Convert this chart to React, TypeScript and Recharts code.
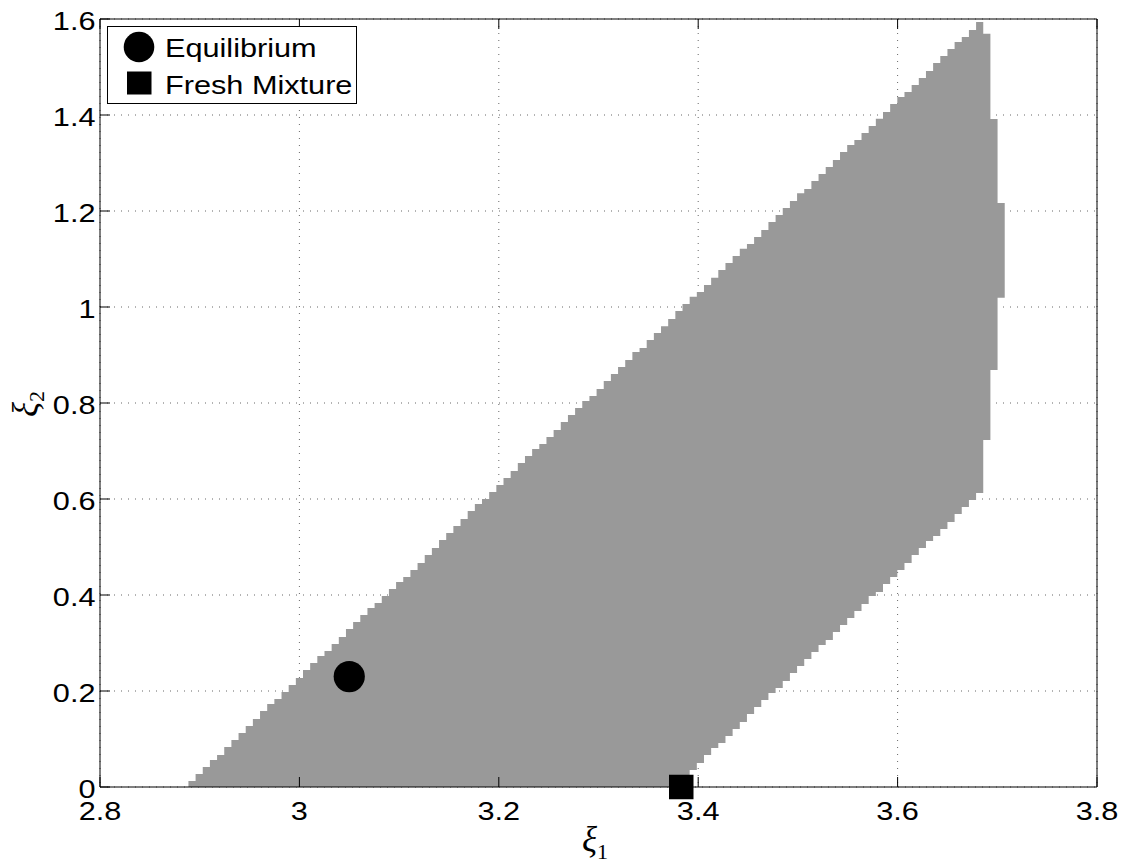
import React from 'react';
import { ComposedChart, Area, Scatter, XAxis, YAxis, CartesianGrid, Legend, Label } from 'recharts';

// ---- axis ticks ----
const XI1_TICKS = [2.8, 3.0, 3.2, 3.4, 3.6, 3.8];
const XI2_TICKS = [0, 0.2, 0.4, 0.6, 0.8, 1.0, 1.2, 1.4, 1.6];

// ---- feasible region, rasterised in columns along xi1 ----
const COLUMN_XI1_START = 2.8887;
const COLUMN_XI1_WIDTH = 0.007182;

// upper xi2 limit of each column
const REGION_UPPER = [
  0.0125, 0.0271, 0.0417, 0.0563, 0.0667, 0.0833, 0.0979, 0.1125, 0.1271, 0.1417,
  0.1583, 0.1729, 0.1833, 0.1979, 0.2125, 0.2271, 0.2438, 0.2583, 0.2729, 0.2833,
  0.2979, 0.3125, 0.3292, 0.3438, 0.3583, 0.3729, 0.3833, 0.3979, 0.4125, 0.4271,
  0.4375, 0.4521, 0.4667, 0.4833, 0.4979, 0.5146, 0.5292, 0.5438, 0.5583, 0.575,
  0.5896, 0.6, 0.6146, 0.6292, 0.6438, 0.6583, 0.675, 0.6896, 0.7042, 0.7146,
  0.7292, 0.7438, 0.7604, 0.775, 0.7896, 0.8042, 0.8146, 0.8292, 0.8458, 0.8604,
  0.875, 0.8896, 0.9063, 0.9146, 0.9313, 0.9458, 0.9598, 0.975, 0.9917, 1.0063,
  1.0215, 1.0313, 1.0458, 1.061, 1.0771, 1.0917, 1.1063, 1.1215, 1.1313, 1.1458,
  1.1604, 1.1771, 1.1917, 1.2063, 1.2208, 1.2369, 1.2458, 1.2625, 1.2771, 1.2917,
  1.3063, 1.3229, 1.3375, 1.3479, 1.3625, 1.3771, 1.3923, 1.4063, 1.4229, 1.4375,
  1.4479, 1.4625, 1.4771, 1.4917, 1.5083, 1.5229, 1.5375, 1.5521, 1.5625, 1.5771,
  1.5938, 1.5694, 1.3917, 1.2167,
];

// lower xi2 limit of each column
const REGION_LOWER = [
  0, 0, 0, 0, 0, 0, 0, 0, 0, 0,
  0, 0, 0, 0, 0, 0, 0, 0, 0, 0,
  0, 0, 0, 0, 0, 0, 0, 0, 0, 0,
  0, 0, 0, 0, 0, 0, 0, 0, 0, 0,
  0, 0, 0, 0, 0, 0, 0, 0, 0, 0,
  0, 0, 0, 0, 0, 0, 0, 0, 0, 0,
  0, 0, 0, 0, 0, 0, 0, 0, 0, 0,
  0.0354, 0.05, 0.0667, 0.0813, 0.0917, 0.1063, 0.1208, 0.1354, 0.1521, 0.1667,
  0.1813, 0.1958, 0.2063, 0.2208, 0.2375, 0.2521, 0.2667, 0.2813, 0.2958, 0.3063,
  0.3229, 0.3375, 0.3521, 0.3667, 0.3813, 0.3979, 0.4063, 0.4229, 0.4375, 0.4521,
  0.4667, 0.4833, 0.4979, 0.5125, 0.5229, 0.5375, 0.5521, 0.5688, 0.5833, 0.5979,
  0.6125, 0.7229, 0.8688, 1.0194,
];

// ---- points ----
const EQUILIBRIUM = [{ x: 3.05, y: 0.23 }];
const FRESH_MIXTURE = [{ x: 3.383, y: 0 }];
const SERIES_NAMES = ['Equilibrium', 'Fresh Mixture'];

const regionData: { x: number; range: [number, number] }[] = REGION_UPPER.map((hi, i) => ({
  x: COLUMN_XI1_START + i * COLUMN_XI1_WIDTH,
  range: [REGION_LOWER[i], hi] as [number, number],
}));
regionData.push({
  x: COLUMN_XI1_START + REGION_UPPER.length * COLUMN_XI1_WIDTH,
  range: [REGION_LOWER[REGION_LOWER.length - 1], REGION_UPPER[REGION_UPPER.length - 1]],
});

const SANS = "'Liberation Sans', Arial, Helvetica, sans-serif";
const SERIF = "'Liberation Serif', 'DejaVu Serif', 'Times New Roman', serif";
const STRETCH = 1.18;
const fmt = (v: number) => String(Math.round(v * 10) / 10);
const stretchAt = (x: number) => `matrix(${STRETCH} 0 0 1 ${(1 - STRETCH) * x} 0)`;

const BottomTick = (props: any) => {
  const { x, y, payload } = props;
  return (
    <g>
      <line x1={x} y1={y} x2={x} y2={y - 10} stroke="#000" strokeWidth={1} />
      <text x={x} y={y + 33} textAnchor="middle" fontFamily={SANS} fontSize={26} fill="#000" transform={stretchAt(x)}>
        {fmt(payload.value)}
      </text>
    </g>
  );
};

const TopTick = (props: any) => {
  const { x, y } = props;
  return <line x1={x} y1={y} x2={x} y2={y + 10} stroke="#000" strokeWidth={1} />;
};

const LeftTick = (props: any) => {
  const { x, y, payload } = props;
  const tx = x - 4.5;
  return (
    <g>
      <line x1={x} y1={y} x2={x + 10} y2={y} stroke="#000" strokeWidth={1} />
      <text x={tx} y={y + 11.5} textAnchor="end" fontFamily={SANS} fontSize={26} fill="#000" transform={stretchAt(tx)}>
        {fmt(payload.value)}
      </text>
    </g>
  );
};

const RightTick = (props: any) => {
  const { x, y } = props;
  return <line x1={x} y1={y} x2={x - 10} y2={y} stroke="#000" strokeWidth={1} />;
};

const XLabel = (props: any) => {
  const vb = props.viewBox || { x: 100, y: 787, width: 997, height: 1 };
  const cx = vb.x + vb.width / 2 - 3.5;
  const by = 851;
  return (
    <text x={cx} y={by} textAnchor="middle" fontFamily={SERIF} fill="#000">
      <tspan fontStyle="italic" fontSize={35}>ξ</tspan>
      <tspan fontSize={22} dy={8}>1</tspan>
    </text>
  );
};

const YLabel = (props: any) => {
  const vb = props.viewBox || { x: 99, y: 19, width: 1, height: 768 };
  const bx = 37;
  const cy = vb.y + vb.height / 2 + 1;
  return (
    <text x={bx} y={cy} textAnchor="middle" fontFamily={SERIF} fill="#000" transform={`rotate(-90 ${bx} ${cy})`}>
      <tspan fontStyle="italic" fontSize={35}>ξ</tspan>
      <tspan fontSize={22} dy={7}>2</tspan>
    </text>
  );
};

const renderLegend = (props: any) => {
  const payload = (props && props.payload) || [];
  const names = payload.length === 2 ? payload.map((p: any) => p.value) : SERIES_NAMES;
  return (
    <svg width={250} height={78} style={{ display: 'block' }}>
      <rect x={0.5} y={0.5} width={249} height={77} fill="#fff" stroke="#000" strokeWidth={1} />
      <circle cx={32} cy={21} r={15.3} fill="#000" />
      <text x={58} y={31.5} fontFamily={SANS} fontSize={26} fill="#000" transform={stretchAt(58)}>
        {names[0]}
      </text>
      <rect x={20} y={45.5} width={24.5} height={23} fill="#000" />
      <text x={58} y={68} fontFamily={SANS} fontSize={26} fill="#000" transform={stretchAt(58)}>
        {names[1]}
      </text>
    </svg>
  );
};

const CircleMarker = (props: any) => <circle cx={props.cx} cy={props.cy} r={15.6} fill="#000" />;
const SquareMarker = (props: any) => (
  <rect x={props.cx - 12.25} y={props.cy - 12.25} width={24.5} height={24.5} fill="#000" />
);

export default function App() {
  return (
    <div style={{ width: 1127, height: 867, margin: -8 }}>
      <ComposedChart
        width={1127}
        height={867}
        data={regionData}
        margin={{ top: 18, right: 29, bottom: 79, left: 99 }}
      >
        <CartesianGrid stroke="#000" strokeOpacity={0.6} strokeDasharray="1 6" strokeWidth={1} />
        <XAxis
          xAxisId={0}
          dataKey="x"
          type="number"
          domain={[2.8, 3.8]}
          ticks={XI1_TICKS}
          interval={0}
          height={1}
          tickSize={0}
          tickMargin={0}
          tickLine={false}
          axisLine={{ stroke: '#000', strokeWidth: 1 }}
          tick={(p: any) => <BottomTick {...p} />}
        >
          <Label content={XLabel} />
        </XAxis>
        <XAxis
          xAxisId="top"
          orientation="top"
          dataKey="x"
          type="number"
          domain={[2.8, 3.8]}
          ticks={XI1_TICKS}
          interval={0}
          height={1}
          tickSize={0}
          tickMargin={0}
          tickLine={false}
          axisLine={{ stroke: '#000', strokeWidth: 1 }}
          tick={(p: any) => <TopTick {...p} />}
        />
        <YAxis
          yAxisId={0}
          type="number"
          domain={[0, 1.6]}
          ticks={XI2_TICKS}
          interval={0}
          width={1}
          tickSize={0}
          tickMargin={0}
          tickLine={false}
          axisLine={{ stroke: '#000', strokeWidth: 1 }}
          tick={(p: any) => <LeftTick {...p} />}
        >
          <Label content={YLabel} />
        </YAxis>
        <YAxis
          yAxisId="right"
          orientation="right"
          type="number"
          domain={[0, 1.6]}
          ticks={XI2_TICKS}
          interval={0}
          width={1}
          tickSize={0}
          tickMargin={0}
          tickLine={false}
          axisLine={{ stroke: '#000', strokeWidth: 1 }}
          tick={(p: any) => <RightTick {...p} />}
        />
        <Area
          dataKey="range"
          type="stepAfter"
          fill="#999999"
          fillOpacity={1}
          stroke="none"
          legendType="none"
          isAnimationActive={false}
          activeDot={false}
          dot={false}
        />
        <Scatter
          name={SERIES_NAMES[0]}
          data={EQUILIBRIUM}
          dataKey="y"
          legendType="circle"
          shape={CircleMarker}
          isAnimationActive={false}
        />
        <Scatter
          name={SERIES_NAMES[1]}
          data={FRESH_MIXTURE}
          dataKey="y"
          legendType="square"
          shape={SquareMarker}
          isAnimationActive={false}
        />
        <Legend
          layout="vertical"
          align="center"
          verticalAlign="middle"
          content={renderLegend}
          wrapperStyle={{ left: 107, top: 26, width: 250, height: 78 }}
        />
      </ComposedChart>
    </div>
  );
}
